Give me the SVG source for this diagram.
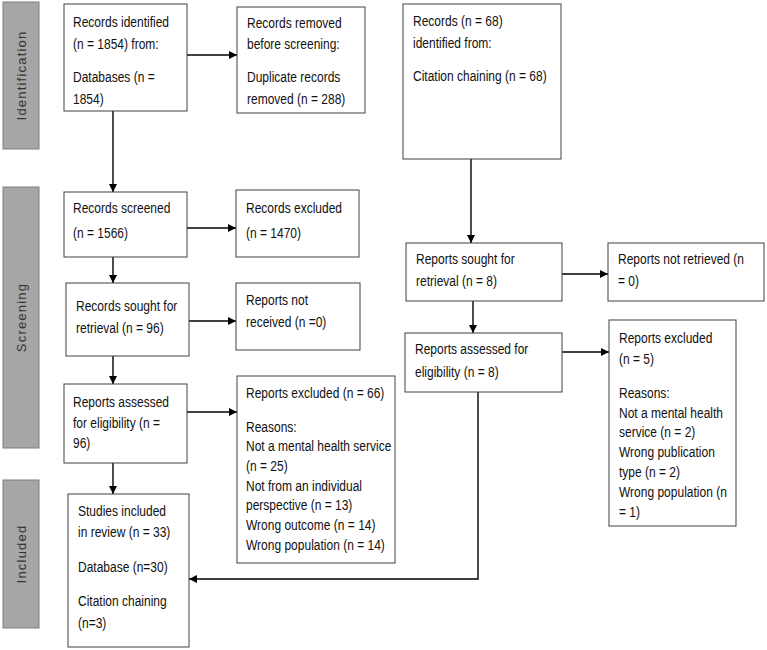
<svg xmlns="http://www.w3.org/2000/svg" width="767" height="650" viewBox="0 0 767 650">
<style>
  .box { fill: #ffffff; stroke: #404040; stroke-width: 1; }
  .phase { fill: #a6a6a6; stroke: #7f7f7f; stroke-width: 1; }
  .phase-t { font-family: "Liberation Sans", Arial, sans-serif; font-size: 13px; fill: #333333; letter-spacing: 1.2px; text-anchor: middle; }
  .t { font-family: "Liberation Sans", Arial, sans-serif; font-size: 15px; fill: #111111; }
  .c { fill: none; stroke: #000000; stroke-width: 1.4; }
  .ca { fill: none; stroke: #000000; stroke-width: 1.4; marker-end: url(#ah); }
</style>
<defs>
  <marker id="ah" markerUnits="userSpaceOnUse" markerWidth="9" markerHeight="8" refX="8" refY="4" orient="auto">
    <path d="M0,0 L8,4 L0,8 z" fill="#000000"/>
  </marker>
</defs>
<rect width="767" height="650" fill="#ffffff"/>

<g id="phase-identification">
  <rect class="phase" x="3" y="2" width="36" height="147"/>
  <text class="phase-t" transform="translate(25.5 75.5) rotate(-90)">Identification</text>
</g>
<g id="phase-screening">
  <rect class="phase" x="3" y="187" width="36" height="261"/>
  <text class="phase-t" transform="translate(25.5 317.5) rotate(-90)">Screening</text>
</g>
<g id="phase-included">
  <rect class="phase" x="3" y="480" width="36" height="148"/>
  <text class="phase-t" transform="translate(25.5 554) rotate(-90)">Included</text>
</g>

<g id="connectors">
  <line class="ca" x1="187" y1="55" x2="237" y2="55"/>
  <line class="ca" x1="113" y1="111" x2="113" y2="192"/>
  <line class="ca" x1="471" y1="159" x2="471" y2="243"/>
  <line class="ca" x1="187" y1="228" x2="236" y2="228"/>
  <line class="ca" x1="113" y1="257" x2="113" y2="283"/>
  <line class="ca" x1="189" y1="321" x2="236" y2="321"/>
  <line class="ca" x1="113" y1="356" x2="113" y2="384"/>
  <line class="ca" x1="187" y1="412" x2="237" y2="412"/>
  <line class="ca" x1="113" y1="463" x2="113" y2="494"/>
  <line class="ca" x1="562" y1="274" x2="608" y2="274"/>
  <line class="ca" x1="473" y1="301" x2="473" y2="333"/>
  <line class="ca" x1="562" y1="352" x2="609" y2="352"/>
  <path class="ca" d="M478,392 L478,579 L189,579"/>
</g>

<g id="records-identified">
  <rect class="box" x="64" y="4" width="123" height="107"/>
  <g class="t" transform="translate(73 0) scale(0.8 1)">
    <text y="27">Records identified</text>
    <text y="49">(n = 1854) from:</text>
    <text y="82">Databases (n =</text>
    <text y="104">1854)</text>
  </g>
</g>

<g id="records-removed">
  <rect class="box" x="237" y="7" width="128" height="106"/>
  <g class="t" transform="translate(247 0) scale(0.8 1)">
    <text y="28">Records removed</text>
    <text y="49">before screening:</text>
    <text y="82">Duplicate records</text>
    <text y="104">removed (n = 288)</text>
  </g>
</g>

<g id="records-citation">
  <rect class="box" x="403" y="4" width="158" height="155"/>
  <g class="t" transform="translate(413 0) scale(0.8 1)">
    <text y="26">Records (n = 68)</text>
    <text y="48">identified from:</text>
    <text y="81">Citation chaining (n = 68)</text>
  </g>
</g>

<g id="records-screened">
  <rect class="box" x="64" y="192" width="123" height="65"/>
  <g class="t" transform="translate(73 0) scale(0.8 1)">
    <text y="213">Records screened</text>
    <text y="238">(n = 1566)</text>
  </g>
</g>

<g id="records-excluded">
  <rect class="box" x="236" y="190" width="123" height="67"/>
  <g class="t" transform="translate(246 0) scale(0.8 1)">
    <text y="213">Records excluded</text>
    <text y="238">(n = 1470)</text>
  </g>
</g>

<g id="records-sought">
  <rect class="box" x="66" y="283" width="123" height="73"/>
  <g class="t" transform="translate(76 0) scale(0.8 1)">
    <text y="311">Records sought for</text>
    <text y="333">retrieval (n = 96)</text>
  </g>
</g>

<g id="reports-not-received">
  <rect class="box" x="236" y="283" width="124" height="67"/>
  <g class="t" transform="translate(246 0) scale(0.8 1)">
    <text y="305">Reports not</text>
    <text y="327">received (n =0)</text>
  </g>
</g>

<g id="reports-assessed">
  <rect class="box" x="64" y="384" width="123" height="79"/>
  <g class="t" transform="translate(73 0) scale(0.8 1)">
    <text y="407">Reports assessed</text>
    <text y="428">for eligibility (n =</text>
    <text y="448">96)</text>
  </g>
</g>

<g id="reports-excluded-66">
  <rect class="box" x="237" y="376" width="158" height="187"/>
  <g class="t" transform="translate(246 0) scale(0.8 1)">
    <text y="398">Reports excluded (n = 66)</text>
    <text y="432">Reasons:</text>
    <text y="451">Not a mental health service</text>
    <text y="471">(n = 25)</text>
    <text y="491">Not from an individual</text>
    <text y="510">perspective (n = 13)</text>
    <text y="530">Wrong outcome (n = 14)</text>
    <text y="550">Wrong population (n = 14)</text>
  </g>
</g>

<g id="studies-included">
  <rect class="box" x="68" y="494" width="121" height="153"/>
  <g class="t" transform="translate(78 0) scale(0.8 1)">
    <text y="516">Studies included</text>
    <text y="537">in review (n = 33)</text>
    <text y="572">Database (n=30)</text>
    <text y="606">Citation chaining</text>
    <text y="628">(n=3)</text>
  </g>
</g>

<g id="reports-sought-8">
  <rect class="box" x="406" y="243" width="156" height="58"/>
  <g class="t" transform="translate(416 0) scale(0.8 1)">
    <text y="264">Reports sought for</text>
    <text y="286">retrieval (n = 8)</text>
  </g>
</g>

<g id="reports-not-retrieved">
  <rect class="box" x="608" y="243" width="156" height="58"/>
  <g class="t" transform="translate(618 0) scale(0.8 1)">
    <text y="264">Reports not retrieved (n</text>
    <text y="286">= 0)</text>
  </g>
</g>

<g id="reports-assessed-8">
  <rect class="box" x="405" y="333" width="157" height="59"/>
  <g class="t" transform="translate(415 0) scale(0.8 1)">
    <text y="354">Reports assessed for</text>
    <text y="377">eligibility (n = 8)</text>
  </g>
</g>

<g id="reports-excluded-5">
  <rect class="box" x="609" y="320" width="127" height="206"/>
  <g class="t" transform="translate(619 0) scale(0.8 1)">
    <text y="343">Reports excluded</text>
    <text y="364">(n = 5)</text>
    <text y="398">Reasons:</text>
    <text y="418">Not a mental health</text>
    <text y="437">service (n = 2)</text>
    <text y="457">Wrong publication</text>
    <text y="477">type (n = 2)</text>
    <text y="497">Wrong population (n</text>
    <text y="517">= 1)</text>
  </g>
</g>
</svg>
